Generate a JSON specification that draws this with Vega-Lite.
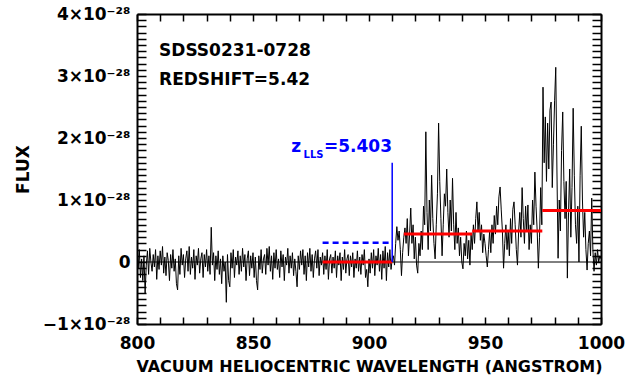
{
"$schema":"https://vega.github.io/schema/vega-lite/v6.json",
"width":464,"height":310,
"autosize":"none",
"padding":{"left":137,"top":14,"right":41,"bottom":57},
"config":{"view":{"stroke":null},"font":"DejaVu Sans"},
"datasets":{
"spec":[
{"w":800,"f":0.15},{"w":800.5,"f":-0.1},{"w":801,"f":0.2},{"w":801.5,"f":-0.25},{"w":802,"f":0.05},{"w":802.5,"f":-0.3},{"w":803,"f":0.1},{"w":803.5,"f":-0.5},{"w":804,"f":-0.05},{"w":804.5,"f":0.18},
{"w":805,"f":-0.2},{"w":805.5,"f":0.22},{"w":806,"f":0.0},{"w":806.5,"f":-0.15},{"w":807,"f":0.12},{"w":807.5,"f":-0.08},{"w":808,"f":0.2},{"w":808.5,"f":-0.28},{"w":809,"f":0.1},{"w":809.5,"f":-0.12},
{"w":810,"f":0.18},{"w":810.5,"f":-0.05},{"w":811,"f":0.25},{"w":811.5,"f":-0.18},{"w":812,"f":0.08},{"w":812.5,"f":-0.22},{"w":813,"f":0.15},{"w":813.5,"f":0.02},{"w":814,"f":-0.3},{"w":814.5,"f":0.12},
{"w":815,"f":-0.1},{"w":815.5,"f":0.2},{"w":816,"f":-0.15},{"w":816.5,"f":0.05},{"w":817,"f":-0.35},{"w":817.5,"f":-0.45},{"w":818,"f":0.1},{"w":818.5,"f":-0.2},{"w":819,"f":0.22},{"w":819.5,"f":-0.05},
{"w":820,"f":0.12},{"w":820.5,"f":-0.25},{"w":821,"f":0.05},{"w":821.5,"f":0.18},{"w":822,"f":-0.15},{"w":822.5,"f":0.25},{"w":823,"f":-0.2},{"w":823.5,"f":0.08},{"w":824,"f":-0.1},{"w":824.5,"f":0.2},
{"w":825,"f":-0.28},{"w":825.5,"f":0.1},{"w":826,"f":-0.05},{"w":826.5,"f":0.22},{"w":827,"f":-0.18},{"w":827.5,"f":0.05},{"w":828,"f":0.15},{"w":828.5,"f":-0.25},{"w":829,"f":0.12},{"w":829.5,"f":-0.08},
{"w":830,"f":0.2},{"w":830.5,"f":-0.15},{"w":831,"f":0.1},{"w":831.5,"f":-0.2},{"w":832,"f":0.56},{"w":832.5,"f":-0.05},{"w":833,"f":0.15},{"w":833.5,"f":-0.3},{"w":834,"f":0.1},{"w":834.5,"f":-0.12},
{"w":835,"f":0.18},{"w":835.5,"f":-0.2},{"w":836,"f":0.05},{"w":836.5,"f":-0.35},{"w":837,"f":0.1},{"w":837.5,"f":-0.15},{"w":838,"f":0.0},{"w":838.5,"f":-0.65},{"w":839,"f":0.12},{"w":839.5,"f":-0.3},
{"w":840,"f":-0.4},{"w":840.5,"f":0.15},{"w":841,"f":-0.1},{"w":841.5,"f":0.2},{"w":842,"f":-0.25},{"w":842.5,"f":0.08},{"w":843,"f":-0.05},{"w":843.5,"f":0.18},{"w":844,"f":-0.2},{"w":844.5,"f":0.1},
{"w":845,"f":-0.15},{"w":845.5,"f":0.22},{"w":846,"f":-0.08},{"w":846.5,"f":0.12},{"w":847,"f":-0.3},{"w":847.5,"f":0.05},{"w":848,"f":0.18},{"w":848.5,"f":-0.22},{"w":849,"f":0.1},{"w":849.5,"f":-0.1},
{"w":850,"f":0.15},{"w":850.5,"f":-0.25},{"w":851,"f":0.08},{"w":851.5,"f":-0.3},{"w":852,"f":-0.45},{"w":852.5,"f":0.1},{"w":853,"f":-0.12},{"w":853.5,"f":0.2},{"w":854,"f":-0.18},{"w":854.5,"f":0.05},
{"w":855,"f":0.12},{"w":855.5,"f":-0.2},{"w":856,"f":0.22},{"w":856.5,"f":-0.05},{"w":857,"f":0.25},{"w":857.5,"f":-0.15},{"w":858,"f":0.1},{"w":858.5,"f":-0.28},{"w":859,"f":0.15},{"w":859.5,"f":-0.1},
{"w":860,"f":0.2},{"w":860.5,"f":-0.12},{"w":861,"f":0.05},{"w":861.5,"f":-0.25},{"w":862,"f":0.18},{"w":862.5,"f":-0.08},{"w":863,"f":0.12},{"w":863.5,"f":-0.3},{"w":864,"f":0.08},{"w":864.5,"f":-0.05},
{"w":865,"f":0.22},{"w":865.5,"f":-0.18},{"w":866,"f":0.1},{"w":866.5,"f":-0.1},{"w":867,"f":0.15},{"w":867.5,"f":-0.22},{"w":868,"f":0.05},{"w":868.5,"f":-0.15},{"w":869,"f":-0.4},{"w":869.5,"f":0.1},
{"w":870,"f":-0.12},{"w":870.5,"f":0.18},{"w":871,"f":-0.05},{"w":871.5,"f":0.2},{"w":872,"f":-0.2},{"w":872.5,"f":0.1},{"w":873,"f":-0.3},{"w":873.5,"f":0.15},{"w":874,"f":-0.08},{"w":874.5,"f":0.22},
{"w":875,"f":-0.15},{"w":875.5,"f":0.12},{"w":876,"f":-0.25},{"w":876.5,"f":0.05},{"w":877,"f":0.18},{"w":877.5,"f":-0.1},{"w":878,"f":0.2},{"w":878.5,"f":-0.22},{"w":879,"f":0.08},{"w":879.5,"f":-0.05},
{"w":880,"f":0.15},{"w":880.5,"f":-0.2},{"w":881,"f":0.1},{"w":881.5,"f":-0.12},{"w":882,"f":0.2},{"w":882.5,"f":-0.28},{"w":883,"f":0.05},{"w":883.5,"f":0.12},{"w":884,"f":-0.18},{"w":884.5,"f":0.08},
{"w":885,"f":-0.1},{"w":885.5,"f":0.18},{"w":886,"f":-0.25},{"w":886.5,"f":0.1},{"w":887,"f":-0.05},{"w":887.5,"f":0.15},{"w":888,"f":-0.3},{"w":888.5,"f":0.08},{"w":889,"f":-0.12},{"w":889.5,"f":0.2},
{"w":890,"f":-0.18},{"w":890.5,"f":0.05},{"w":891,"f":0.12},{"w":891.5,"f":-0.22},{"w":892,"f":0.1},{"w":892.5,"f":-0.08},{"w":893,"f":0.15},{"w":893.5,"f":-0.25},{"w":894,"f":0.05},{"w":894.5,"f":-0.1},
{"w":895,"f":0.18},{"w":895.5,"f":-0.15},{"w":896,"f":0.08},{"w":896.5,"f":-0.2},{"w":897,"f":0.12},{"w":897.5,"f":-0.05},{"w":898,"f":0.2},{"w":898.5,"f":-0.25},{"w":899,"f":-0.12},{"w":899.5,"f":-0.4},
{"w":900,"f":0.05},{"w":900.5,"f":-0.18},{"w":901,"f":0.15},{"w":901.5,"f":-0.1},{"w":902,"f":0.2},{"w":902.5,"f":-0.22},{"w":903,"f":0.1},{"w":903.5,"f":-0.05},{"w":904,"f":0.22},{"w":904.5,"f":-0.15},
{"w":905,"f":0.12},{"w":905.5,"f":-0.28},{"w":906,"f":0.18},{"w":906.5,"f":-0.1},{"w":907,"f":0.25},{"w":907.5,"f":-0.3},{"w":908,"f":0.15},{"w":908.5,"f":-0.08},{"w":909,"f":0.2},{"w":909.5,"f":-0.12},
{"w":910,"f":0.05},{"w":910.5,"f":0.1},{"w":911,"f":-0.05},{"w":911.5,"f":0.3},{"w":912,"f":0.57},{"w":912.5,"f":0.35},{"w":913,"f":0.5},{"w":913.5,"f":0.2},{"w":914,"f":-0.22},{"w":914.5,"f":0.15},
{"w":915,"f":0.4},{"w":915.5,"f":0.55},{"w":916,"f":0.3},{"w":916.5,"f":0.7},{"w":917,"f":0.1},{"w":917.5,"f":0.45},{"w":918,"f":0.87},{"w":918.5,"f":0.3},{"w":919,"f":0.6},{"w":919.5,"f":0.05},
{"w":920,"f":0.4},{"w":920.5,"f":-0.05},{"w":921,"f":-0.18},{"w":921.5,"f":0.3},{"w":922,"f":0.1},{"w":922.5,"f":0.5},{"w":923,"f":0.2},{"w":923.5,"f":0.9},{"w":924,"f":0.6},{"w":924.5,"f":2.1},
{"w":925,"f":0.8},{"w":925.5,"f":0.2},{"w":926,"f":1.0},{"w":926.5,"f":0.5},{"w":927,"f":1.4},{"w":927.5,"f":0.7},{"w":928,"f":0.3},{"w":928.5,"f":0.05},{"w":929,"f":0.6},{"w":929.5,"f":1.1},
{"w":930,"f":2.24},{"w":930.5,"f":1.3},{"w":931,"f":0.7},{"w":931.5,"f":0.1},{"w":932,"f":0.6},{"w":932.5,"f":1.1},{"w":933,"f":0.9},{"w":933.5,"f":1.5},{"w":934,"f":0.8},{"w":934.5,"f":0.4},
{"w":935,"f":1.0},{"w":935.5,"f":0.5},{"w":936,"f":1.35},{"w":936.5,"f":0.6},{"w":937,"f":0.2},{"w":937.5,"f":0.8},{"w":938,"f":0.3},{"w":938.5,"f":0.55},{"w":939,"f":0.1},{"w":939.5,"f":0.4},
{"w":940,"f":0.0},{"w":940.5,"f":-0.11},{"w":941,"f":0.3},{"w":941.5,"f":0.1},{"w":942,"f":0.5},{"w":942.5,"f":0.05},{"w":943,"f":0.35},{"w":943.5,"f":-0.05},{"w":944,"f":0.45},{"w":944.5,"f":0.2},
{"w":945,"f":0.6},{"w":945.5,"f":0.3},{"w":946,"f":0.7},{"w":946.5,"f":0.97},{"w":947,"f":0.5},{"w":947.5,"f":0.8},{"w":948,"f":0.35},{"w":948.5,"f":0.6},{"w":949,"f":0.15},{"w":949.5,"f":0.45},
{"w":950,"f":0.3},{"w":950.5,"f":0.1},{"w":951,"f":-0.08},{"w":951.5,"f":0.2},{"w":952,"f":0.5},{"w":952.5,"f":0.15},{"w":953,"f":0.6},{"w":953.5,"f":0.3},{"w":954,"f":0.75},{"w":954.5,"f":0.45},
{"w":955,"f":0.9},{"w":955.5,"f":0.6},{"w":956,"f":1.05},{"w":956.5,"f":1.21},{"w":957,"f":0.84},{"w":957.5,"f":0.5},{"w":958,"f":-0.1},{"w":958.5,"f":0.3},{"w":959,"f":0.6},{"w":959.5,"f":0.2},
{"w":960,"f":0.5},{"w":960.5,"f":0.1},{"w":961,"f":0.7},{"w":961.5,"f":0.3},{"w":962,"f":0.85},{"w":962.5,"f":0.97},{"w":963,"f":0.6},{"w":963.5,"f":0.2},{"w":964,"f":-0.05},{"w":964.5,"f":0.5},
{"w":965,"f":0.8},{"w":965.5,"f":0.4},{"w":966,"f":1.2},{"w":966.5,"f":0.7},{"w":967,"f":0.3},{"w":967.5,"f":0.9},{"w":968,"f":0.5},{"w":968.5,"f":0.92},{"w":969,"f":0.2},{"w":969.5,"f":0.6},
{"w":970,"f":0.3},{"w":970.5,"f":1.0},{"w":971,"f":0.6},{"w":971.5,"f":1.45},{"w":972,"f":0.9},{"w":972.5,"f":0.5},{"w":973,"f":-0.1},{"w":973.5,"f":0.4},{"w":974,"f":1.2},{"w":974.5,"f":0.6},
{"w":975,"f":2.82},{"w":975.5,"f":1.6},{"w":976,"f":2.34},{"w":976.5,"f":1.3},{"w":977,"f":2.24},{"w":977.5,"f":1.5},{"w":978,"f":2.45},{"w":978.5,"f":2.58},{"w":979,"f":1.2},{"w":979.5,"f":1.9},
{"w":980,"f":2.6},{"w":980.5,"f":3.14},{"w":981,"f":1.5},{"w":981.5,"f":0.06},{"w":982,"f":1.0},{"w":982.5,"f":0.5},{"w":983,"f":1.8},{"w":983.5,"f":2.42},{"w":984,"f":1.3},{"w":984.5,"f":0.7},
{"w":985,"f":1.3},{"w":985.5,"f":-0.26},{"w":986,"f":0.8},{"w":986.5,"f":1.5},{"w":987,"f":0.4},{"w":987.5,"f":1.2},{"w":988,"f":2.48},{"w":988.5,"f":1.4},{"w":989,"f":0.6},{"w":989.5,"f":0.3},
{"w":990,"f":0.9},{"w":990.5,"f":0.0},{"w":991,"f":1.4},{"w":991.5,"f":2.19},{"w":992,"f":1.0},{"w":992.5,"f":0.4},{"w":993,"f":0.8},{"w":993.5,"f":0.2},{"w":994,"f":-0.13},{"w":994.5,"f":0.3},
{"w":995,"f":0.5},{"w":995.5,"f":0.1},{"w":996,"f":1.03},{"w":996.5,"f":0.2},{"w":997,"f":-0.15},{"w":997.5,"f":0.15},{"w":998,"f":-0.05},{"w":998.5,"f":0.2},{"w":999,"f":0.0},{"w":999.5,"f":0.1},{"w":1000,"f":0.05}
]
},
"resolve":{"axis":{"x":"independent","y":"independent"}},
"layer":[
{"data":{"values":[{"f":0}]},"mark":{"type":"rule","color":"black","strokeWidth":1},
 "encoding":{"y":{"field":"f","type":"quantitative","scale":{"domain":[-1,4],"nice":false,"zero":false},"axis":null}}},
{"data":{"name":"spec"},"mark":{"type":"line","color":"black","strokeWidth":1,"clip":true},
 "encoding":{
  "x":{"field":"w","type":"quantitative","scale":{"domain":[800,1000],"nice":false,"zero":false},
   "axis":{"orient":"bottom","values":[800,810,820,830,840,850,860,870,880,890,900,910,920,930,940,950,960,970,980,990,1000],
    "labelExpr":"datum.value % 50 === 0 ? '' + datum.value : ''","labelFlush":false,"labelOverlap":false,
    "grid":false,"tickSize":-7,"tickColor":"black","tickWidth":1.5,"domainColor":"black","domainWidth":2,
    "labelFont":"DejaVu Sans","labelFontWeight":"bold","labelFontSize":17,"labelColor":"black","labelPadding":18,
    "title":"VACUUM HELIOCENTRIC WAVELENGTH (ANGSTROM)","titleFont":"DejaVu Sans","titleFontWeight":"bold","titleFontSize":16,"titleColor":"black","titlePadding":7,
    "encode":{"ticks":{"update":{"y2":{"signal":"datum.value % 50 === 0 ? -7 : -3.5"}}}}}},
  "y":{"field":"f","type":"quantitative","scale":{"domain":[-1,4],"nice":false,"zero":false},
   "axis":{"orient":"left","values":[-1,-0.9,-0.8,-0.7,-0.6,-0.5,-0.4,-0.3,-0.2,-0.1,0,0.1,0.2,0.3,0.4,0.5,0.6,0.7,0.8,0.9,1,1.1,1.2,1.3,1.4,1.5,1.6,1.7,1.8,1.9,2,2.1,2.2,2.3,2.4,2.5,2.6,2.7,2.8,2.9,3,3.1,3.2,3.3,3.4,3.5,3.6,3.7,3.8,3.9,4],
    "labelExpr":"abs(datum.value - round(datum.value)) < 0.01 ? (round(datum.value) == 0 ? '0' : (datum.value < 0 ? '−' : '') + abs(round(datum.value)) + '×10⁻²⁸') : ''",
    "labelFlush":false,"labelOverlap":false,"grid":false,"tickSize":-9,"tickColor":"black","tickWidth":1.5,"domainColor":"black","domainWidth":2,
    "labelFont":"DejaVu Sans","labelFontWeight":"bold","labelFontSize":17,"labelColor":"black","labelPadding":16,
    "title":"FLUX","titleFont":"DejaVu Sans","titleFontWeight":"bold","titleFontSize":17,"titleColor":"black","titlePadding":10,
    "encode":{"ticks":{"update":{"x2":{"signal":"abs(datum.value - round(datum.value)) < 0.01 ? 9 : 4.5"}}}}}}
 }},
{"data":{"values":[{"w":880,"w2":910,"f":0},{"w":915,"w2":944.5,"f":0.45},{"w":944.5,"w2":974.7,"f":0.5},{"w":974.7,"w2":1000,"f":0.83}]},
 "mark":{"type":"rule","color":"#ff0000","strokeWidth":3},
 "encoding":{
  "x":{"field":"w","type":"quantitative","scale":{"domain":[800,1000],"nice":false,"zero":false},
   "axis":{"orient":"top","values":[800,810,820,830,840,850,860,870,880,890,900,910,920,930,940,950,960,970,980,990,1000],
    "labels":false,"title":null,"grid":false,"tickSize":-7,"tickColor":"black","tickWidth":1.5,"domainColor":"black","domainWidth":2,
    "encode":{"ticks":{"update":{"y2":{"signal":"datum.value % 50 === 0 ? 7 : 3.5"}}}}}},
  "x2":{"field":"w2"},
  "y":{"field":"f","type":"quantitative","scale":{"domain":[-1,4],"nice":false,"zero":false},
   "axis":{"orient":"right","values":[-1,-0.9,-0.8,-0.7,-0.6,-0.5,-0.4,-0.3,-0.2,-0.1,0,0.1,0.2,0.3,0.4,0.5,0.6,0.7,0.8,0.9,1,1.1,1.2,1.3,1.4,1.5,1.6,1.7,1.8,1.9,2,2.1,2.2,2.3,2.4,2.5,2.6,2.7,2.8,2.9,3,3.1,3.2,3.3,3.4,3.5,3.6,3.7,3.8,3.9,4],
    "labels":false,"title":null,"grid":false,"tickSize":-9,"tickColor":"black","tickWidth":1.5,"domainColor":"black","domainWidth":2,
    "encode":{"ticks":{"update":{"x2":{"signal":"abs(datum.value - round(datum.value)) < 0.01 ? -9 : -4.5"}}}}}}
 }},
{"data":{"values":[{"w":880,"w2":910,"f":0.31}]},
 "mark":{"type":"rule","color":"#0000ff","strokeWidth":2.5,"strokeDash":[6,4]},
 "encoding":{"x":{"field":"w","type":"quantitative","axis":null},"x2":{"field":"w2"},"y":{"field":"f","type":"quantitative","axis":null}}},
{"data":{"values":[{"w":910,"f":0,"f2":1.6}]},
 "mark":{"type":"rule","color":"#0000ff","strokeWidth":1.5},
 "encoding":{"x":{"field":"w","type":"quantitative","axis":null},"y":{"field":"f","type":"quantitative","axis":null},"y2":{"field":"f2"}}},
{"data":{"values":[{"w":809.5,"f":3.32,"t":"SDSS0231-0728"},{"w":809.5,"f":2.85,"t":"REDSHIFT=5.42"}]},
 "mark":{"type":"text","align":"left","baseline":"alphabetic","font":"DejaVu Sans","fontWeight":"bold","fontSize":17,"color":"black"},
 "encoding":{"x":{"field":"w","type":"quantitative","axis":null},"y":{"field":"f","type":"quantitative","axis":null},"text":{"field":"t"}}},
{"data":{"values":[{"w":866.5,"f":1.774,"t":"z"},{"w":880.6,"f":1.774,"t":"=5.403"}]},
 "mark":{"type":"text","align":"left","baseline":"alphabetic","font":"DejaVu Sans","fontWeight":"bold","fontSize":17,"color":"#0000ff"},
 "encoding":{"x":{"field":"w","type":"quantitative","axis":null},"y":{"field":"f","type":"quantitative","axis":null},"text":{"field":"t"}}},
{"data":{"values":[{"w":871.8,"f":1.677,"t":"LLS"}]},
 "mark":{"type":"text","align":"left","baseline":"alphabetic","font":"DejaVu Sans","fontWeight":"bold","fontSize":10,"color":"#0000ff"},
 "encoding":{"x":{"field":"w","type":"quantitative","axis":null},"y":{"field":"f","type":"quantitative","axis":null},"text":{"field":"t"}}}
]
}
